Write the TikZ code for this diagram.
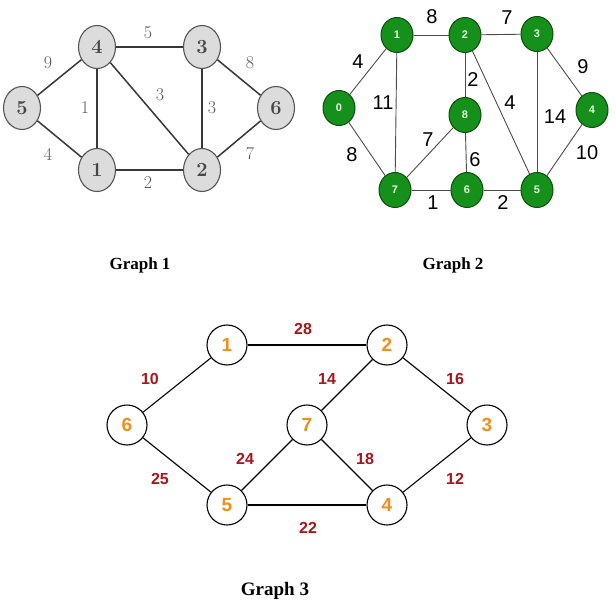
\documentclass[tikz,border=0pt]{standalone}
\usepackage{fontspec}
\newfontfamily\arialfont{Liberation Sans}
\newfontfamily\timesfont{Liberation Serif}
\usetikzlibrary{shapes.geometric}
\definecolor{gfill}{HTML}{DCDCDC}
\definecolor{gdraw}{HTML}{555555}
\definecolor{gtext}{HTML}{5A5A5A}
\definecolor{grn}{HTML}{15901A}
\definecolor{grndark}{HTML}{0B4F0B}
\definecolor{grntext}{HTML}{E6FFE0}
\definecolor{orng}{HTML}{EE8F1E}
\definecolor{dred}{HTML}{A8161B}
\tikzset{
  gonenode/.style={ellipse, fill=gfill, draw=gdraw, line width=1.1pt, minimum width=37pt, minimum height=43pt, inner sep=0pt, font=\bfseries\fontsize{20}{20}\selectfont, text=black!72},
  goneedge/.style={draw=black!78, line width=1.5pt},
  gonelab/.style={font=\fontsize{18}{18}\selectfont, text=gtext},
  gtwonode/.style={ellipse, fill=grn, draw=grndark, line width=1pt, minimum width=32pt, minimum height=35pt, inner sep=0pt, font=\arialfont\bfseries\fontsize{11}{11}\selectfont, text=grntext},
  gtwoedge/.style={draw=black!70, line width=0.9pt},
  gtwolab/.style={font=\arialfont\fontsize{20}{20}\selectfont, text=black},
  gthreenode/.style={circle, fill=white, draw=black, line width=1.1pt, minimum size=40pt, inner sep=0pt, font=\arialfont\bfseries\fontsize{19}{19}\selectfont, text=orng},
  gthreeedge/.style={draw=black, line width=1.1pt},
  gthreelab/.style={font=\arialfont\bfseries\fontsize{16}{16}\selectfont, text=dred},
  caption/.style={font=\timesfont\bfseries\fontsize{17}{17}\selectfont, text=black}
}
\begin{document}
\begin{tikzpicture}[x=1pt,y=-1pt]
\useasboundingbox[fill=white] (0,0) rectangle (616,610);
% ---------------- Graph 1
\node[gonenode] (a4) at (97,47) {4};
\node[gonenode] (a3) at (202,47) {3};
\node[gonenode] (a5) at (22,108) {5};
\node[gonenode] (a6) at (276,108) {6};
\node[gonenode] (a1) at (97,170) {1};
\node[gonenode] (a2) at (202,170) {2};
\draw[goneedge] (a4) -- (a3);
\draw[goneedge] (a5) -- (a4);
\draw[goneedge] (a3) -- (a6);
\draw[goneedge] (a4) -- (a1);
\draw[goneedge] (a4) -- (a2);
\draw[goneedge] (a3) -- (a2);
\draw[goneedge] (a5) -- (a1);
\draw[goneedge] (a2) -- (a6);
\draw[goneedge] (a1) -- (a2);
\node[gonelab] (l1) at (148,33) {5};
\node[gonelab] (l2) at (48,63) {9};
\node[gonelab] (l3) at (250,63) {8};
\node[gonelab] (l4) at (85,108) {1};
\node[gonelab] (l5) at (160,95) {3};
\node[gonelab] (l6) at (212,108) {3};
\node[gonelab] (l7) at (48,154) {4};
\node[gonelab] (l8) at (250,154) {7};
\node[gonelab] (l9) at (148,183) {2};
% ---------------- Graph 2
\node[gtwonode] (b1) at (397,35) {1};
\node[gtwonode] (b2) at (465,35) {2};
\node[gtwonode] (b3) at (537,34) {3};
\node[gtwonode] (b0) at (339,108) {0};
\node[gtwonode] (b8) at (465,115) {8};
\node[gtwonode] (b4) at (592,110) {4};
\node[gtwonode] (b7) at (395,190) {7};
\node[gtwonode] (b6) at (467,190) {6};
\node[gtwonode] (b5) at (537,190) {5};
\draw[gtwoedge] (b1) -- (b2);
\draw[gtwoedge] (b2) -- (b3);
\draw[gtwoedge] (b0) -- (b1);
\draw[gtwoedge] (b3) -- (b4);
\draw[gtwoedge] (b1) -- (b7);
\draw[gtwoedge] (b2) -- (b8);
\draw[gtwoedge] (b2) -- (b5);
\draw[gtwoedge] (b3) -- (b5);
\draw[gtwoedge] (b8) -- (b7);
\draw[gtwoedge] (b0) -- (b7);
\draw[gtwoedge] (b8) -- (b6);
\draw[gtwoedge] (b4) -- (b5);
\draw[gtwoedge] (b7) -- (b6);
\draw[gtwoedge] (b6) -- (b5);
\node[gtwolab] (m1) at (432,17) {8};
\node[gtwolab] (m2) at (507,18) {7};
\node[gtwolab] (m3) at (358,62) {4};
\node[gtwolab] (m4) at (583,67) {9};
\node[gtwolab] (m5) at (383,103) {11};
\node[gtwolab] (m6) at (473,80) {2};
\node[gtwolab] (m7) at (510,103) {4};
\node[gtwolab] (m8) at (555,117) {14};
\node[gtwolab] (m9) at (428,140) {7};
\node[gtwolab] (m10) at (352,155) {8};
\node[gtwolab] (m11) at (475,160) {6};
\node[gtwolab] (m12) at (587,153) {10};
\node[gtwolab] (m13) at (433,203) {1};
\node[gtwolab] (m14) at (503,203) {2};
% ---------------- Graph 3
\node[gthreenode] (c1) at (227,345) {1};
\node[gthreenode] (c2) at (387,345) {2};
\node[gthreenode] (c6) at (127,425) {6};
\node[gthreenode] (c7) at (307,425) {7};
\node[gthreenode] (c3) at (487,425) {3};
\node[gthreenode] (c5) at (227,505) {5};
\node[gthreenode] (c4) at (387,505) {4};
\draw[gthreeedge] (c1) -- (c2);
\draw[gthreeedge] (c6) -- (c1);
\draw[gthreeedge] (c7) -- (c2);
\draw[gthreeedge] (c2) -- (c3);
\draw[gthreeedge] (c6) -- (c5);
\draw[gthreeedge] (c5) -- (c7);
\draw[gthreeedge] (c7) -- (c4);
\draw[gthreeedge] (c4) -- (c3);
\draw[gthreeedge] (c5) -- (c4);
\node[gthreelab] (n1) at (303,329) {28};
\node[gthreelab] (n2) at (150,379) {10};
\node[gthreelab] (n3) at (327,379) {14};
\node[gthreelab] (n4) at (455,379) {16};
\node[gthreelab] (n5) at (245,459) {24};
\node[gthreelab] (n6) at (365,459) {18};
\node[gthreelab] (n7) at (160,479) {25};
\node[gthreelab] (n8) at (455,479) {12};
\node[gthreelab] (n9) at (308,528) {22};
% ---------------- Captions
\node[caption] (t1) at (140,265) {Graph 1};
\node[caption] (t2) at (453,265) {Graph 2};
\node[caption, font=\timesfont\bfseries\fontsize{19}{19}\selectfont] (t3) at (275,591) {Graph 3};
\end{tikzpicture}
\end{document}
